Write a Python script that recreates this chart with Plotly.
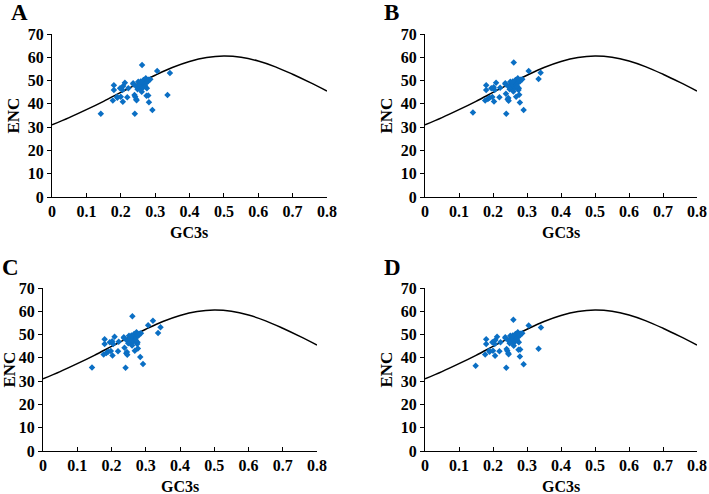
import plotly.graph_objects as go

# Expected ENC curve
curve_gc3s = [0.0, 0.05, 0.1, 0.15, 0.2, 0.25, 0.3, 0.35, 0.4, 0.45, 0.5,
              0.55, 0.6, 0.65, 0.7, 0.75, 0.8]
curve_enc = [31.0, 34.1, 37.5, 41.1, 44.9, 48.7, 52.3, 55.6, 58.2, 59.9, 60.5,
             60.0, 58.4, 55.9, 52.7, 49.2, 45.5]

gc3s_A = [0.142, 0.177, 0.180, 0.180, 0.189, 0.190, 0.198, 0.200, 0.205, 0.206,
          0.207, 0.212, 0.219, 0.222, 0.236, 0.237, 0.240, 0.242, 0.241, 0.245,
          0.246, 0.246, 0.249, 0.251, 0.254, 0.256, 0.257, 0.261, 0.262, 0.263,
          0.266, 0.268, 0.270, 0.272, 0.273, 0.275, 0.276, 0.277, 0.279, 0.281,
          0.282, 0.286, 0.292, 0.306, 0.336, 0.343, 0.258, 0.265, 0.271, 0.280]
enc_A = [35.7, 41.4, 48.0, 46.0, 43.1, 42.6, 46.7, 43.1, 45.9, 40.9,
         47.7, 49.1, 42.8, 46.7, 48.9, 48.4, 43.8, 43.1, 35.7, 42.0,
         41.6, 47.4, 46.3, 49.5, 48.1, 46.7, 48.1, 45.2, 56.7, 47.4,
         50.2, 48.8, 48.1, 48.9, 51.0, 43.5, 46.7, 49.8, 49.6, 50.3,
         40.7, 50.6, 37.4, 54.1, 43.8, 53.2, 49.6, 47.0, 47.6, 43.6]

gc3s_B = [0.141, 0.177, 0.180, 0.180, 0.185, 0.190, 0.195, 0.198, 0.205, 0.203,
          0.202, 0.209, 0.219, 0.221, 0.236, 0.237, 0.238, 0.243, 0.239, 0.245,
          0.246, 0.246, 0.249, 0.251, 0.254, 0.256, 0.257, 0.260, 0.261, 0.263,
          0.266, 0.268, 0.268, 0.272, 0.273, 0.275, 0.276, 0.277, 0.279, 0.281,
          0.279, 0.286, 0.290, 0.305, 0.334, 0.340, 0.258, 0.265, 0.271, 0.277]
enc_B = [36.3, 41.4, 48.0, 46.0, 42.1, 42.6, 46.7, 42.9, 45.9, 41.0,
         47.1, 49.1, 42.8, 46.9, 48.9, 48.4, 44.3, 42.0, 35.7, 42.5,
         41.3, 47.4, 46.3, 49.5, 48.1, 46.7, 48.1, 45.3, 57.8, 47.4,
         50.2, 48.8, 43.1, 48.9, 51.0, 46.0, 46.7, 49.8, 49.6, 50.3,
         40.6, 50.6, 37.4, 54.1, 50.7, 53.4, 49.6, 47.0, 47.6, 43.9]

gc3s_C = [0.143, 0.177, 0.180, 0.180, 0.185, 0.190, 0.195, 0.198, 0.205, 0.203,
          0.202, 0.209, 0.219, 0.221, 0.236, 0.237, 0.238, 0.243, 0.241, 0.245,
          0.246, 0.246, 0.249, 0.251, 0.254, 0.256, 0.257, 0.260, 0.261, 0.263,
          0.266, 0.268, 0.268, 0.272, 0.273, 0.275, 0.276, 0.277, 0.279, 0.281,
          0.284, 0.286, 0.292, 0.307, 0.336, 0.343, 0.258, 0.265, 0.271, 0.277,
          0.321]
enc_C = [35.9, 41.4, 48.0, 46.0, 42.1, 42.6, 46.7, 42.9, 45.9, 41.0,
         47.1, 49.1, 42.8, 46.9, 48.9, 48.4, 44.3, 42.0, 35.7, 42.5,
         41.3, 47.4, 46.3, 49.5, 48.1, 46.7, 48.1, 45.3, 57.9, 47.4,
         50.2, 48.8, 43.0, 48.9, 51.0, 46.0, 46.7, 49.8, 49.6, 50.3,
         40.4, 50.6, 37.4, 54.0, 50.7, 53.1, 49.6, 47.0, 47.6, 44.0,
         55.9]

gc3s_D = [0.149, 0.177, 0.180, 0.180, 0.189, 0.190, 0.198, 0.200, 0.205, 0.206,
          0.207, 0.212, 0.219, 0.222, 0.236, 0.237, 0.240, 0.242, 0.239, 0.245,
          0.246, 0.246, 0.249, 0.251, 0.254, 0.256, 0.257, 0.261, 0.260, 0.263,
          0.266, 0.268, 0.270, 0.272, 0.273, 0.275, 0.276, 0.277, 0.279, 0.281,
          0.279, 0.286, 0.290, 0.305, 0.334, 0.341, 0.258, 0.265, 0.271, 0.280]
enc_D = [36.6, 41.4, 48.0, 46.0, 43.1, 42.6, 46.7, 43.1, 45.9, 40.9,
         47.7, 49.1, 42.8, 46.7, 48.9, 48.4, 43.8, 43.1, 35.7, 42.0,
         41.6, 47.4, 46.3, 49.5, 48.1, 46.7, 48.1, 45.2, 56.4, 47.4,
         50.2, 48.8, 48.1, 48.9, 51.0, 43.5, 46.7, 49.8, 49.6, 50.3,
         40.6, 50.6, 37.3, 53.9, 43.9, 53.0, 49.6, 47.0, 47.6, 43.6]

panel_labels = ["A", "B", "C", "D"]
x_title = "GC3s"
y_title = "ENC"
x_ticks = [0, 0.1, 0.2, 0.3, 0.4, 0.5, 0.6, 0.7, 0.8]
x_ticktext = ["0", "0.1", "0.2", "0.3", "0.4", "0.5", "0.6", "0.7", "0.8"]
y_ticks = [0, 10, 20, 30, 40, 50, 60, 70]
y_ticktext = ["0", "10", "20", "30", "40", "50", "60", "70"]

W, H = 709, 494
# panel plot-area boxes in pixels: (left, right, top, bottom)
boxes = [(52, 327, 34, 197), (425, 697, 34, 197),
         (43, 317, 288, 451), (425, 697, 288, 451)]
data_x = [gc3s_A, gc3s_B, gc3s_C, gc3s_D]
data_y = [enc_A, enc_B, enc_C, enc_D]

FONT = "Liberation Serif"
fig = go.Figure()
layout = dict(width=W, height=H, margin=dict(l=0, r=0, t=0, b=0, autoexpand=False),
              plot_bgcolor="white", paper_bgcolor="white", showlegend=False,
              font=dict(family=FONT, color="black"))
annotations = []
for i in range(4):
    l, r, t, b = boxes[i]
    xa = "xaxis" if i == 0 else f"xaxis{i+1}"
    ya = "yaxis" if i == 0 else f"yaxis{i+1}"
    xr = "x" if i == 0 else f"x{i+1}"
    yr = "y" if i == 0 else f"y{i+1}"
    fig.add_trace(go.Scatter(x=curve_gc3s, y=curve_enc, mode="lines",
                             line=dict(color="black", width=1.5, shape="spline"),
                             xaxis=xr, yaxis=yr, hoverinfo="skip"))
    fig.add_trace(go.Scatter(x=data_x[i], y=data_y[i], mode="markers",
                             marker=dict(symbol="diamond", size=5, color="#0B6FC4"),
                             xaxis=xr, yaxis=yr))
    layout[xa] = dict(domain=[l / W, r / W], range=[0, 0.8], anchor=yr,
                      tickvals=x_ticks, ticktext=[f"<b>{s}</b>" for s in x_ticktext],
                      showgrid=False, automargin=False,
                      zeroline=False, showline=True, linecolor="black", linewidth=1,
                      ticks="inside", ticklen=4, tickcolor="black",
                      tickfont=dict(family=FONT, size=16, color="black"))
    layout[ya] = dict(domain=[1 - b / H, 1 - t / H], range=[0, 70], anchor=xr,
                      tickvals=y_ticks, ticktext=[f"<b>{s}</b>" for s in y_ticktext],
                      showgrid=False, zeroline=False, automargin=False,
                      showline=True, linecolor="black", linewidth=1,
                      ticks="outside", ticklen=4, tickcolor="black",
                      tickfont=dict(family=FONT, size=16, color="black"))
    # axis titles and panel letters
    annotations.append(dict(text=f"<b>{x_title}</b>", x=(l + r) / 2 / W,
                            y=1 - (b + 35) / H, xref="paper", yref="paper",
                            showarrow=False, xanchor="center", yanchor="middle",
                            font=dict(family=FONT, size=16, color="black")))
    annotations.append(dict(text=f"<b>{y_title}</b>", x=max(l - 39, 9) / W,
                            y=1 - (t + b) / 2 / H, xref="paper", yref="paper",
                            showarrow=False, textangle=-90, xanchor="center",
                            yanchor="middle",
                            font=dict(family=FONT, size=17, color="black")))
    annotations.append(dict(text=f"<b>{panel_labels[i]}</b>", x=(l - 43) / W,
                            y=1 - (t - 21) / H, xref="paper", yref="paper",
                            showarrow=False, xanchor="left", yanchor="middle",
                            font=dict(family=FONT, size=23, color="black")))
layout["annotations"] = annotations
fig.update_layout(**layout)
fig.write_html("out.html", config={"displayModeBar": False},
               post_script="document.body.style.margin='0';"
                           "document.body.style.overflow='hidden';")
